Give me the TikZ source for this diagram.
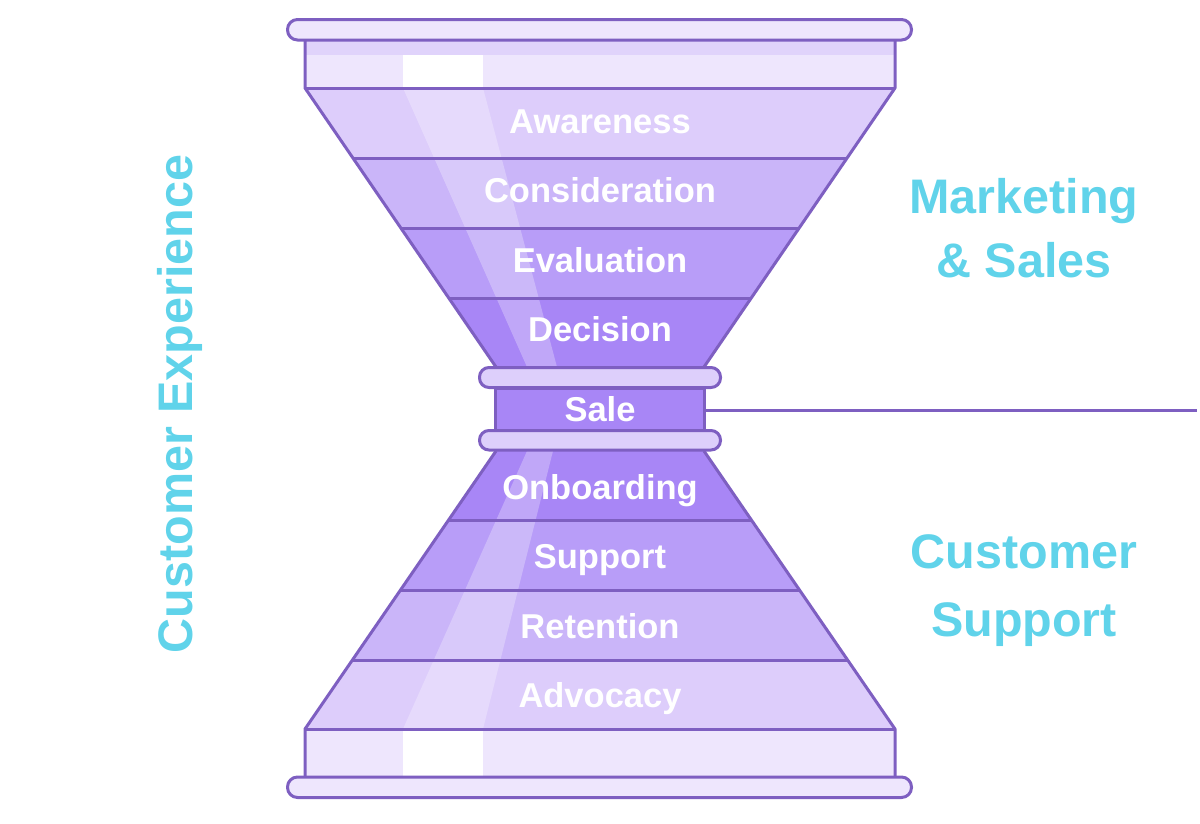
\documentclass[tikz,border=0pt]{standalone}
\usepackage{fontspec}
\setmainfont{Liberation Sans}
\definecolor{ol}{HTML}{7E5FC1}
\definecolor{capc}{HTML}{EEE6FD}
\definecolor{capd}{HTML}{E0D3FB}
\definecolor{scap}{HTML}{DDCFFB}
\definecolor{bA}{HTML}{DDCDFB}
\definecolor{bB}{HTML}{CAB5F9}
\definecolor{bC}{HTML}{B89DF8}
\definecolor{bD}{HTML}{A886F6}
\definecolor{cy}{HTML}{60D3EA}
\begin{document}
\begin{tikzpicture}[x=1pt,y=-1pt,
  olline/.style={draw=ol, line width=3pt, line join=round},
  lab/.style={text=white, font=\fontsize{34.5}{38}\selectfont\bfseries, anchor=base, inner sep=0pt},
  side/.style={text=cy, font=\fontsize{48.5}{56}\selectfont\bfseries, anchor=base, inner sep=0pt},
  shine/.style={fill=white, fill opacity=0.28},
  capbox/.style={olline, fill=capc, rounded corners=10pt},
  salecap/.style={olline, fill=scap, rounded corners=9.5pt}]
\useasboundingbox (0,0) rectangle (1200,823);
% top glass band
\fill[capc] (305,40) rectangle (895,88);
\fill[capd] (305,40) rectangle (895,55);
\fill[white] (403,55) rectangle (483,88);
% bottom glass band
\fill[capc] (305,729) rectangle (895,777);
\fill[white] (403,729) rectangle (483,777);
% upper funnel bands
\fill[bA] (305,88) -- (895,88) -- (847.1,158) -- (352.9,158) -- cycle;
\fill[bB] (352.9,158) -- (847.1,158) -- (799.2,228) -- (400.8,228) -- cycle;
\fill[bC] (400.8,228) -- (799.2,228) -- (751.2,298) -- (448.8,298) -- cycle;
\fill[bD] (448.8,298) -- (751.2,298) -- (704,367) -- (496,367) -- cycle;
% lower funnel bands
\fill[bD] (496,451) -- (704,451) -- (751.4,520) -- (448.6,520) -- cycle;
\fill[bC] (448.6,520) -- (751.4,520) -- (799.5,590) -- (400.5,590) -- cycle;
\fill[bB] (400.5,590) -- (799.5,590) -- (847.6,660) -- (352.4,660) -- cycle;
\fill[bA] (352.4,660) -- (847.6,660) -- (895,729) -- (305,729) -- cycle;
% shine stripes
\fill[shine] (403,88) -- (483,88) -- (557,367) -- (527,367) -- cycle;
\fill[shine] (403,729) -- (483,729) -- (553,451) -- (527,451) -- cycle;
% outlines
\draw[olline] (305,40) -- (305,88) -- (496,367);
\draw[olline] (895,40) -- (895,88) -- (704,367);
\draw[olline] (305,777) -- (305,729) -- (496,451);
\draw[olline] (895,777) -- (895,729) -- (704,451);
\draw[olline] (305,88) -- (895,88);
\draw[olline] (352.9,158) -- (847.1,158);
\draw[olline] (400.8,228) -- (799.2,228);
\draw[olline] (448.8,298) -- (751.2,298);
\draw[olline] (448.6,520) -- (751.4,520);
\draw[olline] (400.5,590) -- (799.5,590);
\draw[olline] (352.4,660) -- (847.6,660);
\draw[olline] (305,729) -- (895,729);
% caps
\draw[capbox] (287.5,19.5) rectangle (911.5,40);
\draw[capbox] (287.5,777) rectangle (911.5,797.5);
% sale section
\node (sale) [olline, fill=bD, minimum width=209pt, minimum height=43pt, inner sep=0pt, anchor=center] at (600,409.5) {};
\draw[salecap] (479.5,367.5) rectangle (720.5,387.5);
\draw[salecap] (479.5,430.5) rectangle (720.5,450);
\coordinate (lineend) at (1197,410);
\draw[draw=ol, line width=3pt] (sale.east |- lineend) -- (lineend);
% labels
\node[lab] (l1) at (600,133) {Awareness};
\node[lab] (l2) at (600,202.5) {Consideration};
\node[lab] (l3) at (600,272.5) {Evaluation};
\node[lab] (l4) at (600,341.5) {Decision};
\node[lab] (l5) at (600,421) {Sale};
\node[lab] (l6) at (600,499.5) {Onboarding};
\node[lab] (l7) at (600,568.5) {Support};
\node[lab] (l8) at (600,638.5) {Retention};
\node[lab] (l9) at (600,707.5) {Advocacy};
% side texts
\node[side] (m1) at (1024,213) {Marketing};
\node[side] (m2) at (1024,277) {\& Sales};
\node[side] (c1) at (1024,568) {Customer};
\node[side] (c2) at (1024,636) {Support};
\node[side, rotate=90] (cx) at (192,404) {Customer Experience};
\end{tikzpicture}
\end{document}
